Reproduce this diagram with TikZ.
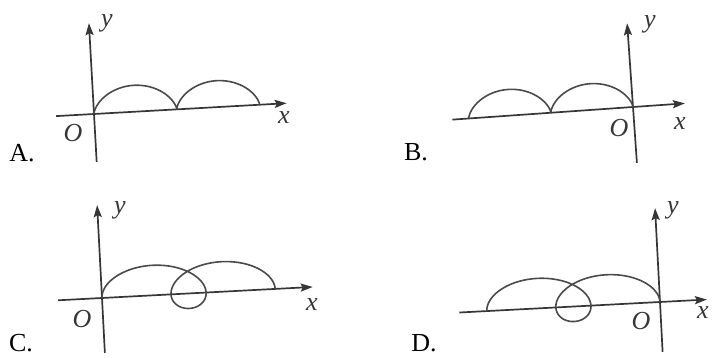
\documentclass[tikz,border=0pt]{standalone}
\usepackage{fontspec}
\setmainfont{Liberation Serif}
\usetikzlibrary{arrows.meta}
\definecolor{AxisInk}{HTML}{363636}
\definecolor{CurveInk}{HTML}{4A4A4A}

\begin{document}
\begin{tikzpicture}[x=1pt, y=1pt,
    axisarrow/.style={-{Stealth[length=12pt, width=8pt, inset=2pt]}, line width=1.7pt, draw=AxisInk},
    curveline/.style={line width=1.6pt, draw=CurveInk},
    axlabel/.style={inner sep=0pt, font=\fontsize{26}{30}\selectfont\itshape, text=AxisInk},
    choicelabel/.style={inner sep=0pt, font=\fontsize{26}{30}\selectfont, text=black}
]
    \useasboundingbox (0,0) rectangle (713,358);

    % A: two cycloid arches to the right of O
    \begin{scope}[shift={(94,244)}, rotate=3.2]
        \coordinate (axl) at (-38,0);
        \coordinate (axr) at (193,0);
        \coordinate (ayb) at (0,-48);
        \coordinate (ayt) at (0,91);
        \draw[axisarrow] (axl) -- (axr);
        \draw[axisarrow] (ayb) -- (ayt);
        \draw[curveline] plot[domain=0:12.566, samples=241]
            ({13.2*(\x - sin(\x r))}, {13.2*(1 - cos(\x r))});
    \end{scope}
    \node[axlabel] (ay) at (107,335) {y};
    \node[axlabel] (ax) at (284,240) {x};
    \node[axlabel] (ao) at (73,225) {O};
    \node[choicelabel] (achoice) at (22,205) {A.};

    % B: two cycloid arches to the left of O
    \begin{scope}[shift={(633,251)}, rotate=4]
        \coordinate (bxl) at (-181,0);
        \coordinate (bxr) at (52,0);
        \coordinate (byb) at (0,-56);
        \coordinate (byt) at (0,84);
        \draw[axisarrow] (bxl) -- (bxr);
        \draw[axisarrow] (byb) -- (byt);
        \draw[curveline] plot[domain=0:12.566, samples=241]
            ({13.1*(\x - sin(\x r)) - 164.6}, {13.1*(1 - cos(\x r))});
    \end{scope}
    \node[axlabel] (by) at (650,334) {y};
    \node[axlabel] (bx) at (680,234) {x};
    \node[axlabel] (bo) at (619,230) {O};
    \node[choicelabel] (bchoice) at (416,206) {B.};

    % C: arches with a loop, to the right of O
    \begin{scope}[shift={(102,60)}, rotate=3]
        \coordinate (cxl) at (-44,0);
        \coordinate (cxr) at (211,0);
        \coordinate (cyb) at (0,-55);
        \coordinate (cyt) at (0,93);
        \draw[axisarrow] (cxl) -- (cxr);
        \draw[axisarrow] (cyb) -- (cyt);
        \draw[curveline] plot[domain=1.2310:11.3354, samples=200, smooth]
            ({11*(\x - 3*sin(\x r) + 1.5974)}, {7.5*(1 - 3*cos(\x r))});
    \end{scope}
    \node[axlabel] (cy) at (120,148) {y};
    \node[axlabel] (cx) at (312,53) {x};
    \node[axlabel] (co) at (82,39) {O};
    \node[choicelabel] (cchoice) at (21,15) {C.};

    % D: arches with a loop, to the left of O
    \begin{scope}[shift={(660,56)}, rotate=3]
        \coordinate (dxl) at (-201,0);
        \coordinate (dxr) at (47,0);
        \coordinate (dyb) at (0,-50);
        \coordinate (dyt) at (0,94);
        \draw[axisarrow] (dxl) -- (dxr);
        \draw[axisarrow] (dyb) -- (dyt);
        \draw[curveline] plot[domain=1.2310:11.3354, samples=200, smooth]
            ({11*(\x - 3*sin(\x r) + 1.5974) - 173.4}, {7.5*(1 - 3*cos(\x r))});
    \end{scope}
    \node[axlabel] (dy) at (673,148) {y};
    \node[axlabel] (dx) at (703,45) {x};
    \node[axlabel] (do) at (641,37) {O};
    \node[choicelabel] (dchoice) at (424,15) {D.};
\end{tikzpicture}
\end{document}
